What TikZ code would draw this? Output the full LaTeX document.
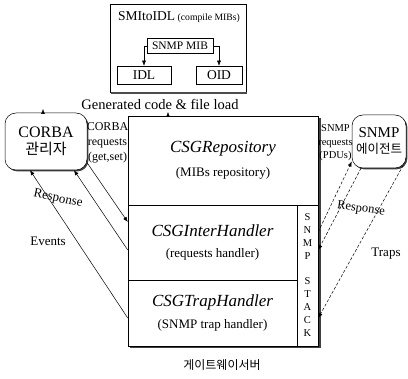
\documentclass[tikz,border=0pt]{standalone}
\usepackage{fontspec}
\setmainfont{Liberation Serif}
\newfontfamily\kor{Noto Sans CJK KR}
\usetikzlibrary{arrows.meta,shadows}

\newcommand{\fs}[1]{\fontsize{#1}{#1}\selectfont}

\begin{document}
\begin{tikzpicture}[x=1pt,y=-1pt,
  box/.style={draw, line width=0.5pt, fill=white, inner sep=0pt, align=center},
  rbox/.style={box, rounded corners=11pt,
    drop shadow={shadow xshift=1.4pt, shadow yshift=-1.4pt, fill=black!75, opacity=1}},
  conn/.style={-{Latex[length=5pt,width=4pt]}, line width=0.5pt},
  dconn/.style={conn, dash pattern=on 3pt off 1.8pt},
  lbl/.style={inner sep=0pt, align=center, font=\fs{13}},
]
\useasboundingbox (0,0) rectangle (408,379);

% --- SMItoIDL compiler block
\node (smi) [box, minimum width=136pt, minimum height=88pt] at (178,48) {};
\draw[black!70, line width=1.2pt] ([xshift=1pt,yshift=-0.8pt]smi.south west) -- ([xshift=0.8pt,yshift=-0.8pt]smi.south east);
\node (smititle) [inner sep=0pt] at (179,17) {{\fs{13.5}SMItoIDL} {\fs{9.7}(compile MIBs)}};
\node (mib) [box, minimum width=66pt, minimum height=15pt, font=\fs{11.5}] at (180,46) {SNMP MIB};
\node (idl) [box, minimum width=54pt, minimum height=18pt, font=\fs{13.5}] at (144,75) {IDL};
\node (oid) [box, minimum width=46pt, minimum height=18pt, font=\fs{13.5}] at (219,75) {OID};
\draw[conn] (mib.west) -| (idl.north);
\draw[conn] (mib.east) -| (oid.north);

\node (gen) [lbl, font=\fs{14.5}] at (160,104) {Generated code \& file load};

% --- gateway server
\fill[black!75] (130,118) rectangle (320.5,348.5);
\node (repo) [box, minimum width=190pt, minimum height=89pt] at (223,160.5)
  {{\fs{17}\itshape CSGRepository}\\[10pt]{\fs{13}(MIBs repository)}};
\node (inter) [box, minimum width=169pt, minimum height=75pt] at (212.5,242.5)
  {{\fs{17}\itshape CSGInterHandler}\\[9pt]{\fs{13}(requests handler)}};
\node (trap) [box, minimum width=169pt, minimum height=66pt] at (212.5,313)
  {{\fs{17}\itshape CSGTrapHandler}\\[9pt]{\fs{13}(SNMP trap handler)}};
\node (stack) [box, minimum width=21pt, minimum height=141pt] at (307.5,275.5) {};
\node (stacktxt) [inner sep=0pt, align=center, font=\fontsize{10.5}{12.8}\selectfont] at (307.5,275)
  {S\\N\\M\\P\\[13pt]S\\T\\A\\C\\K};
\node (gw) [inner sep=0pt, font=\kor\fs{12}] at (222,365) {게이트웨이서버};

% --- managers and agents
\node (corba) [rbox, minimum width=82pt, minimum height=57pt] at (46,141.5)
  {{\fs{16}CORBA}\\[4pt]{\kor\fs{15}관리자}};
\node (agent) [rbox, minimum width=54pt, minimum height=53pt] at (379,141.5)
  {{\fs{15}SNMP}\\[4pt]{\kor\fs{12.5}에이전트}};

% small arrowheads under the generated-code label
\coordinate (gcA) at (43,109);
\coordinate (gcB) at (168,112);
\draw[conn] ([xshift=-3pt]corba.north) -- (gcA);
\draw[conn] ([xshift=-55pt]repo.north) -- (gcB);

% --- CORBA side
\node (creq) [lbl, font=\fs{12}] at (107.5,143) {CORBA\\[3pt]requests\\[3pt](get,set)};
\draw[conn] ([yshift=-21.5pt]corba.east) -- ([yshift=20.5pt]inter.west);
\draw[conn] ([yshift=-7.5pt]inter.west) -- ([xshift=28pt]corba.south);
\draw[conn] ([yshift=-5pt]trap.west) -- ([xshift=-16pt]corba.south);
\node (cresp) [lbl, rotate=-12] at (58,199) {Response};
\node (cev) [lbl] at (48,241) {Events};

% --- SNMP side
\node (sreq) [lbl, font=\fs{10.5}] at (335.5,143) {SNMP\\[3pt]requests\\[3pt](PDUs)};
\draw[dconn] ([yshift=43.5pt]stack.east) -- ([yshift=-20pt]agent.west);
\draw[dconn] ([xshift=-18pt]agent.south) -- ([yshift=25.5pt]stack.east);
\draw[dconn] ([xshift=-3pt,yshift=3pt]agent.south east) -- ([yshift=-42.5pt]stack.east);
\node (sresp) [lbl, font=\fs{12.5}, rotate=-8] at (361,209) {Response};
\node (straps) [lbl] at (386,254) {Traps};
\end{tikzpicture}
\end{document}
